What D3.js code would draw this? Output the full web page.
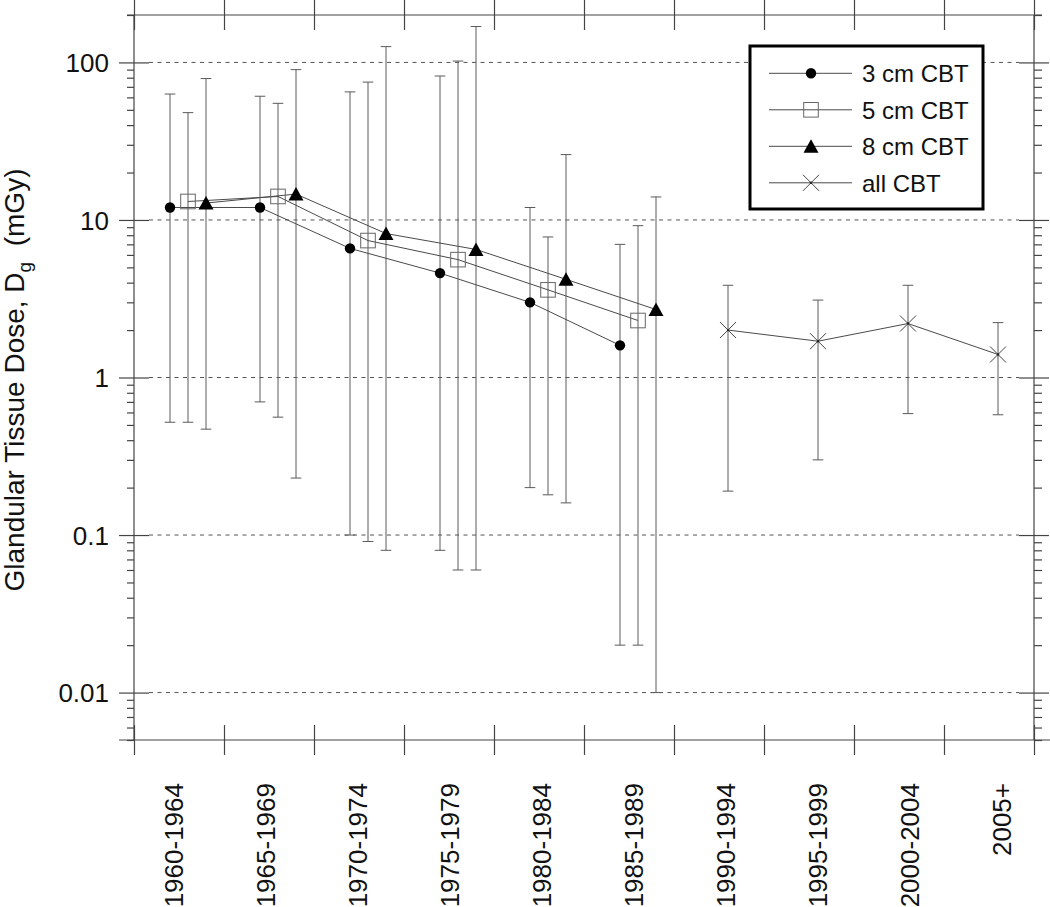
<!DOCTYPE html>
<html>
<head>
<meta charset="utf-8">
<script src="https://cdn.jsdelivr.net/npm/d3@7"></script>
<style>
  html, body { margin: 0; padding: 0; background: #fff; }
  svg { display: block; font-family: "Liberation Sans", Arial, Helvetica, sans-serif; }
</style>
</head>
<body>
<svg id="chart" width="1050" height="907"></svg>
<script>
// ---------------- data ----------------
const categories = ["1960-1964","1965-1969","1970-1974","1975-1979","1980-1984","1985-1989","1990-1994","1995-1999","2000-2004","2005+"];

const cbt3Cats = [0, 1, 2, 3, 4, 5];
const cbt3 = [12.0, 12.0, 6.6, 4.6, 3.0, 1.6];
const cbt3Low = [0.52, 0.70, 0.10, 0.08, 0.20, 0.020];
const cbt3High = [63, 61, 65, 82, 12, 7.0];

const cbt5Cats = [0, 1, 2, 3, 4, 5];
const cbt5 = [13.1, 14.1, 7.4, 5.6, 3.6, 2.3];
const cbt5Low = [0.52, 0.56, 0.091, 0.060, 0.18, 0.020];
const cbt5High = [48, 55, 75, 102, 7.8, 9.2];

const cbt8Cats = [0, 1, 2, 3, 4, 5];
const cbt8 = [12.8, 14.6, 8.2, 6.5, 4.2, 2.7];
const cbt8Low = [0.47, 0.23, 0.080, 0.060, 0.16, 0.010];
const cbt8High = [79, 90, 126, 169, 26, 14];

const allCats = [6, 7, 8, 9];
const allCBT = [2.0, 1.7, 2.2, 1.4];
const allLow = [0.19, 0.30, 0.59, 0.58];
const allHigh = [3.85, 3.1, 3.85, 2.23];

const yMajorTicks = [0.01, 0.1, 1, 10, 100];
const yMajorLabels = ["0.01", "0.1", "1", "10", "100"];
const legendLabels = ["3 cm CBT", "5 cm CBT", "8 cm CBT", "all CBT"];
const yTitle = "Glandular Tissue Dose, D";
const yTitleSub = "g";
const yTitleUnit = "(mGy)";

// ---------------- setup ----------------
const svg = d3.select("#chart");
const L = 134, R = 1034, T = 15, B = 740;

const x = d3.scaleLinear().domain([0, categories.length]).range([L, R]);
const xLabel = d3.scalePoint().domain(categories).range([174, 1002]);
const y = d3.scaleLog().domain([0.005, 200]).range([B, T]);

const axisColor = "#444";
const lineColor = "#4a4a4a";
const barColor = "#5a5a5a";

// minor ticks
const yMinor = [];
for (let e = -3; e <= 2; e++) {
  for (let k = 2; k <= 9; k++) {
    const v = k * Math.pow(10, e);
    if (v >= 0.005 - 1e-12 && v <= 200 + 1e-9) yMinor.push(+v.toPrecision(3));
  }
}

// ---------------- grid ----------------
svg.append("g").selectAll("line").data(yMajorTicks).join("line")
  .attr("x1", L + 15).attr("x2", R - 15)
  .attr("y1", d => y(d)).attr("y2", d => y(d))
  .attr("stroke", "#555").attr("stroke-width", 1)
  .attr("stroke-dasharray", "4,4.5");

// ---------------- axes ----------------
function styleAxis(g) {
  g.select(".domain").remove();
  g.selectAll("line").attr("stroke", axisColor).attr("stroke-width", 1.2);
}
// left
svg.append("g").attr("transform", `translate(${L},0)`)
  .call(d3.axisLeft(y).tickValues(yMajorTicks).tickSize(15).tickPadding(10)
    .tickFormat((d, i) => yMajorLabels[i]))
  .call(styleAxis)
  .call(g => g.selectAll("text").attr("font-size", 26).attr("fill", "#111")
    .attr("font-family", "Liberation Sans, Arial, sans-serif").attr("dy", "0.36em"));
svg.append("g").attr("transform", `translate(${L},0)`)
  .call(d3.axisRight(y).tickValues(yMajorTicks).tickSize(15).tickFormat(""))
  .call(styleAxis);
svg.append("g").attr("transform", `translate(${L},0)`)
  .call(d3.axisLeft(y).tickValues(yMinor).tickSize(7).tickFormat(""))
  .call(styleAxis);
// right
svg.append("g").attr("transform", `translate(${R},0)`)
  .call(d3.axisRight(y).tickValues(yMajorTicks).tickSize(15).tickFormat(""))
  .call(styleAxis);
svg.append("g").attr("transform", `translate(${R},0)`)
  .call(d3.axisLeft(y).tickValues(yMajorTicks).tickSize(15).tickFormat(""))
  .call(styleAxis);
svg.append("g").attr("transform", `translate(${R},0)`)
  .call(d3.axisRight(y).tickValues(yMinor).tickSize(8).tickFormat(""))
  .call(styleAxis);
// top / bottom
const xTicks = d3.range(categories.length + 1);
[T, B].forEach(py => {
  svg.append("g").attr("transform", `translate(0,${py})`)
    .call(d3.axisTop(x).tickValues(xTicks).tickSize(15).tickFormat(""))
    .call(styleAxis);
  svg.append("g").attr("transform", `translate(0,${py})`)
    .call(d3.axisBottom(x).tickValues(xTicks).tickSize(15).tickFormat(""))
    .call(styleAxis);
});
// frame
const frame = svg.append("g").attr("stroke", axisColor).attr("stroke-width", 1.2);
frame.append("line").attr("x1", L).attr("x2", L).attr("y1", T).attr("y2", B);
frame.append("line").attr("x1", R).attr("x2", R).attr("y1", T).attr("y2", B);
frame.append("line").attr("x1", L - 7).attr("x2", R + 8).attr("y1", T).attr("y2", T);
frame.append("line").attr("x1", L - 15).attr("x2", 1050).attr("y1", B).attr("y2", B);

// x labels
svg.append("g").selectAll("text").data(categories).join("text")
  .attr("transform", d => `translate(${xLabel(d)},783) rotate(-90)`)
  .attr("text-anchor", "end").attr("dy", "0.35em")
  .attr("font-size", 26).attr("fill", "#111")
  .text(d => d);

// y title
const yt = svg.append("text")
  .attr("transform", "translate(24,380) rotate(-90)")
  .attr("text-anchor", "middle").attr("font-size", 28).attr("fill", "#111")
  .style("white-space", "pre");
yt.append("tspan").text(yTitle);
yt.append("tspan").attr("font-size", 19).attr("dy", 7).text(yTitleSub);
yt.append("tspan").attr("dy", -7).text("  " + yTitleUnit);

// ---------------- series ----------------
const series = [
  { cats: cbt3Cats, vals: cbt3, lo: cbt3Low, hi: cbt3High, off: 0.4, marker: "circle" },
  { cats: cbt5Cats, vals: cbt5, lo: cbt5Low, hi: cbt5High, off: 0.6, marker: "square" },
  { cats: cbt8Cats, vals: cbt8, lo: cbt8Low, hi: cbt8High, off: 0.8, marker: "triangle" },
  { cats: allCats, vals: allCBT, lo: allLow, hi: allHigh, off: 0.6, marker: "cross" }
];

function drawMarker(g, type, cx, cy) {
  if (type === "circle") {
    g.append("circle").attr("cx", cx).attr("cy", cy).attr("r", 5.2).attr("fill", "#000");
  } else if (type === "square") {
    g.append("rect").attr("x", cx - 7.3).attr("y", cy - 7.3).attr("width", 14.6).attr("height", 14.6)
      .attr("fill", "none").attr("stroke", "#666").attr("stroke-width", 1);
  } else if (type === "triangle") {
    g.append("path").attr("d", `M${cx},${cy - 7} L${cx + 7.5},${cy + 6.5} L${cx - 7.5},${cy + 6.5} Z`)
      .attr("fill", "#000");
  } else if (type === "cross") {
    g.append("path").attr("d", `M${cx - 8},${cy - 8} L${cx + 8},${cy + 8} M${cx - 8},${cy + 8} L${cx + 8},${cy - 8}`)
      .attr("stroke", "#444").attr("stroke-width", 1).attr("fill", "none");
    g.append("circle").attr("cx", cx).attr("cy", cy).attr("r", 1.2).attr("fill", "#222");
  }
}

const barsG = svg.append("g").attr("stroke", barColor).attr("stroke-width", 1);
const linesG = svg.append("g");
const markG = svg.append("g");

series.forEach(s => {
  const pts = s.cats.map((c, i) => ({ px: x(c + s.off), v: s.vals[i], lo: s.lo[i], hi: s.hi[i] }));
  pts.forEach(p => {
    barsG.append("line").attr("x1", p.px).attr("x2", p.px).attr("y1", y(p.lo)).attr("y2", y(p.hi));
    barsG.append("line").attr("x1", p.px - 5.3).attr("x2", p.px + 5.3).attr("y1", y(p.lo)).attr("y2", y(p.lo));
    barsG.append("line").attr("x1", p.px - 5.3).attr("x2", p.px + 5.3).attr("y1", y(p.hi)).attr("y2", y(p.hi));
  });
  linesG.append("path")
    .attr("d", d3.line().x(p => p.px).y(p => y(p.v))(pts))
    .attr("fill", "none").attr("stroke", lineColor).attr("stroke-width", 1);
  pts.forEach(p => drawMarker(markG, s.marker, p.px, y(p.v)));
});

// ---------------- legend ----------------
const lg = svg.append("g");
lg.append("rect").attr("x", 750).attr("y", 46).attr("width", 233).attr("height", 163)
  .attr("fill", "#fff").attr("stroke", "#000").attr("stroke-width", 3);
series.forEach((s, i) => {
  const ry = 73.3 + i * 36.5;
  lg.append("line").attr("x1", 769).attr("x2", 852).attr("y1", ry).attr("y2", ry)
    .attr("stroke", lineColor).attr("stroke-width", 1);
  drawMarker(lg, s.marker, 811, ry);
  lg.append("text").attr("x", 862).attr("y", ry + 8.7)
    .attr("font-size", 24).attr("fill", "#111").text(legendLabels[i]);
});
</script>
</body>
</html>
